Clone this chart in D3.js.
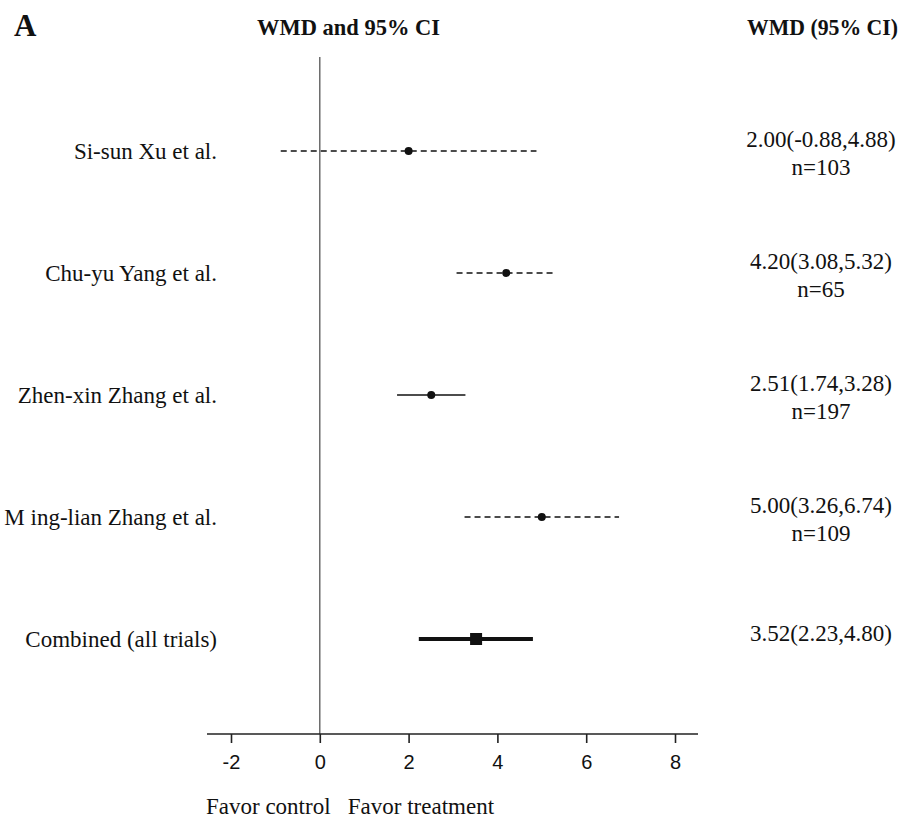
<!DOCTYPE html>
<html>
<head>
<meta charset="utf-8">
<script src="https://cdn.jsdelivr.net/npm/d3@7"></script>
<style>
  body { margin: 0; background: #fff; }
  .serif { font-family: "Liberation Serif", "DejaVu Serif", serif; fill: #111; }
  .axis text { font-family: "Liberation Sans", Arial, sans-serif; font-size: 20px; fill: #111; }
</style>
</head>
<body>
<div id="chart"></div>
<script>
// study data
const studies = ["Si-sun Xu et al.", "Chu-yu Yang et al.", "Zhen-xin Zhang et al.", "M ing-lian Zhang et al.", "Combined (all trials)"];
const wmd   = [2.00, 4.20, 2.51, 5.00, 3.52];
const lower = [-0.88, 3.08, 1.74, 3.26, 2.23];
const upper = [4.88, 5.32, 3.28, 6.74, 4.80];
const sizes = ["n=103", "n=65", "n=197", "n=109", null];
const lineStyle = ["dashed", "dashed", "solid", "dashed", "pooled"];
const xTicks = [-2, 0, 2, 4, 6, 8];

const width = 924, height = 822;

const svg = d3.select("#chart").append("svg")
    .attr("width", width)
    .attr("height", height);

const x = d3.scaleLinear().domain([-2, 8]).range([231, 675]);
const y = d3.scalePoint().domain(studies).range([151, 639]);

const axisY = 734;

// headers
svg.append("text").attr("class", "serif")
    .attr("x", 14).attr("y", 36)
    .style("font-size", "31px").style("font-weight", "bold")
    .text("A");
svg.append("text").attr("class", "serif")
    .attr("x", 257).attr("y", 35)
    .attr("textLength", 183).attr("lengthAdjust", "spacingAndGlyphs")
    .style("font-size", "24px").style("font-weight", "bold")
    .text("WMD and 95% CI");
svg.append("text").attr("class", "serif")
    .attr("x", 747).attr("y", 35)
    .attr("textLength", 151).attr("lengthAdjust", "spacingAndGlyphs")
    .style("font-size", "24px").style("font-weight", "bold")
    .text("WMD (95% CI)");

// zero line
svg.append("line")
    .attr("x1", x(0)).attr("x2", x(0))
    .attr("y1", 57).attr("y2", axisY)
    .attr("stroke", "#555").attr("stroke-width", 1.3);

// x axis
const axis = svg.append("g")
    .attr("class", "axis")
    .attr("transform", `translate(0,${axisY})`)
    .call(d3.axisBottom(x).tickValues(xTicks).tickSize(9).tickPadding(12)
        .tickSizeOuter(0).tickFormat(d => String(d)));
axis.select(".domain").attr("d", `M207,0H698`).attr("stroke", "#222").attr("stroke-width", 1.3);
axis.selectAll(".tick line").attr("stroke", "#222").attr("stroke-width", 1.6);

svg.append("text").attr("class", "serif")
    .attr("x", 206).attr("y", 814)
    .style("font-size", "23px")
    .attr("xml:space", "preserve")
    .text("Favor control   Favor treatment");

// rows
const rows = svg.selectAll(".row")
    .data(studies.map((s, i) => ({ s, i })))
    .enter().append("g")
    .attr("class", "row");

rows.append("text").attr("class", "serif")
    .attr("x", 217).attr("y", d => y(d.s) + 8)
    .attr("text-anchor", "end")
    .style("font-size", "23px")
    .text(d => d.s);

rows.append("line")
    .attr("x1", d => x(lower[d.i])).attr("x2", d => x(upper[d.i]))
    .attr("y1", d => y(d.s)).attr("y2", d => y(d.s))
    .attr("stroke", "#111")
    .attr("stroke-width", d => lineStyle[d.i] === "pooled" ? 4 : 1.3)
    .attr("stroke-dasharray", d => lineStyle[d.i] === "dashed" ? "6,4" : null);

rows.filter(d => lineStyle[d.i] !== "pooled")
    .append("circle")
    .attr("cx", d => x(wmd[d.i])).attr("cy", d => y(d.s))
    .attr("r", 4).attr("fill", "#111");

rows.filter(d => lineStyle[d.i] === "pooled")
    .append("rect")
    .attr("x", d => x(wmd[d.i]) - 6).attr("y", d => y(d.s) - 6)
    .attr("width", 12).attr("height", 12).attr("fill", "#111");

// right column
rows.append("text").attr("class", "serif")
    .attr("x", 821)
    .attr("y", d => sizes[d.i] ? y(d.s) - 4 : y(d.s) + 2)
    .attr("text-anchor", "middle")
    .style("font-size", "23px")
    .text(d => `${wmd[d.i].toFixed(2)}(${lower[d.i].toFixed(2)},${upper[d.i].toFixed(2)})`);

rows.filter(d => sizes[d.i])
    .append("text").attr("class", "serif")
    .attr("x", 821).attr("y", d => y(d.s) + 24)
    .attr("text-anchor", "middle")
    .style("font-size", "23px")
    .text(d => sizes[d.i]);
</script>
</body>
</html>
